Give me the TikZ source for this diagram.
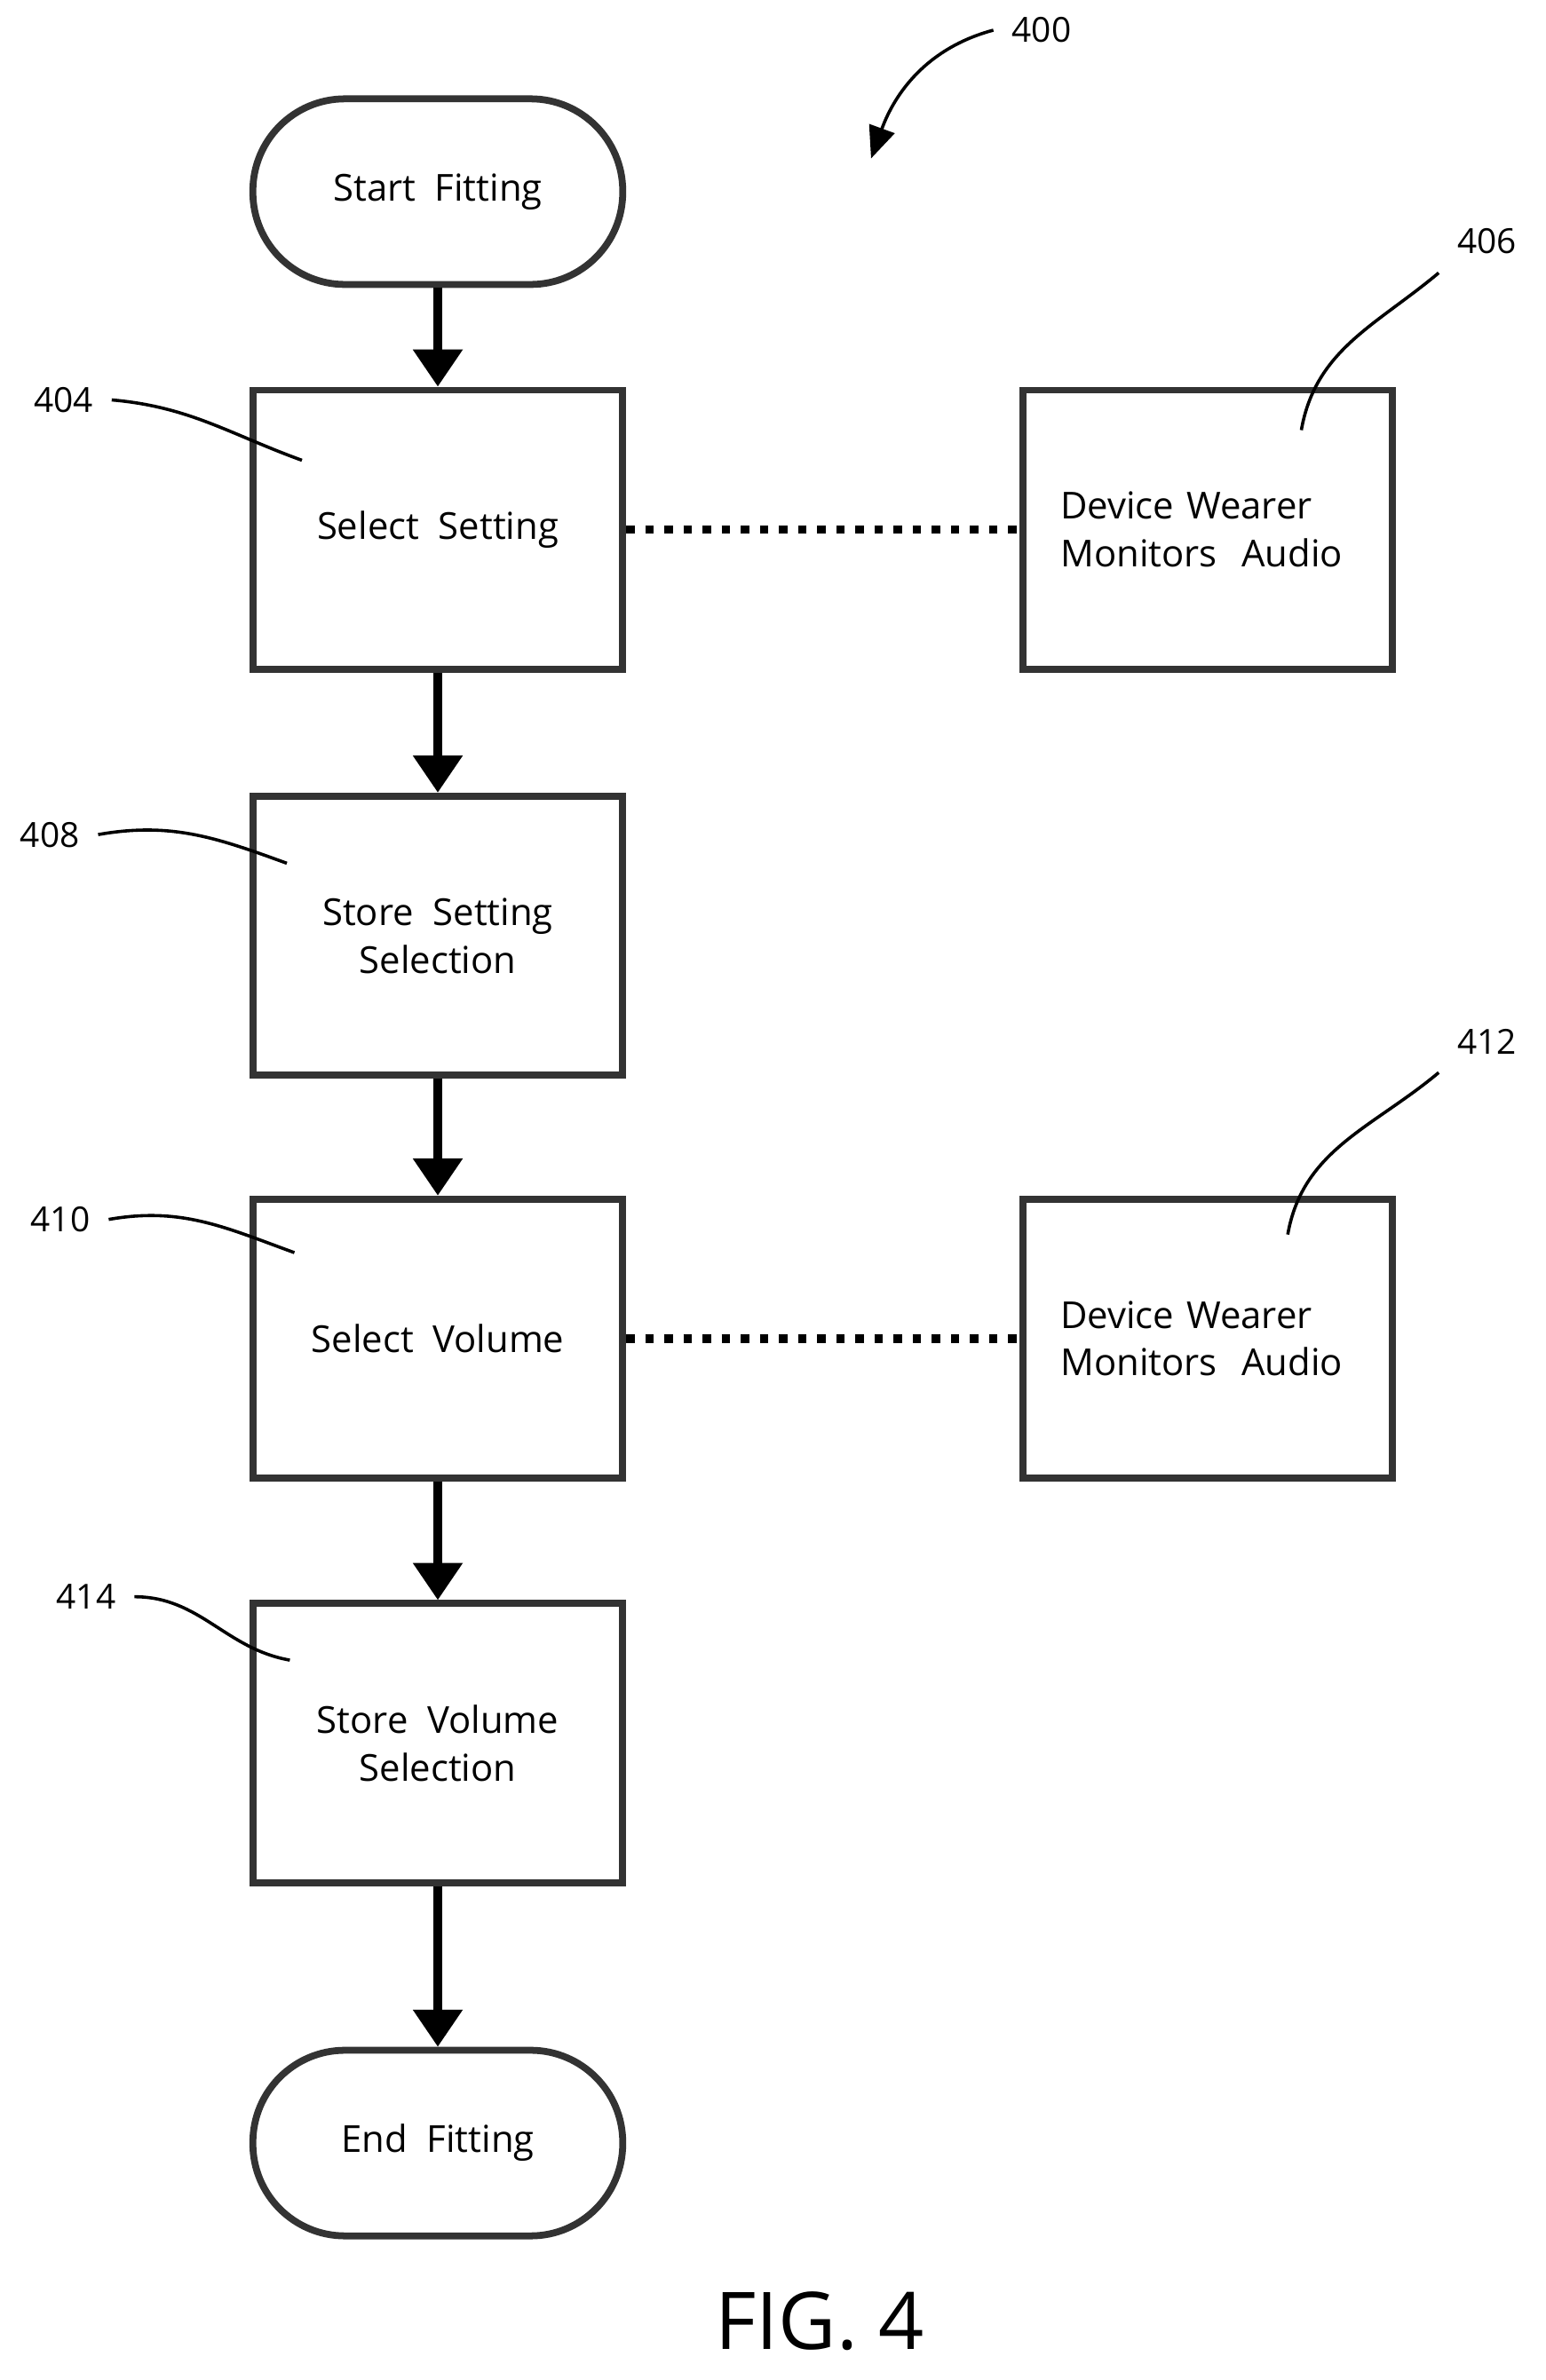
\documentclass[tikz,border=0pt]{standalone}
\usepackage{fontspec}
\setmainfont{Open Sans}
\usetikzlibrary{arrows.meta,positioning}
\tikzset{
  box/.style={draw=black!80,line width=1.3pt,minimum width=2.45cm,minimum height=1.85cm,align=center,font=\fontsize{7}{9}\selectfont},
  term/.style={box,rounded corners=0.61cm,minimum height=1.23cm},
  flow/.style={line width=1.6pt,-{Triangle[length=7pt,width=9pt]}},
  link/.style={line width=1.6pt,dotted},
  lead/.style={line width=0.6pt},
  ref/.style={font=\fontsize{6.5}{8}\selectfont}
}
\begin{document}
\begin{tikzpicture}
\useasboundingbox (0,0) rectangle (10.24,-15.77);
% main column
\node[term] (start) at (2.9,-1.27) {Start\ \ Fitting};
\node[box] (sel) at (2.9,-3.51) {Select\ \ Setting};
\node[box] (store) at (2.9,-6.2) {Store\ \ Setting\\Selection};
\node[box] (vol) at (2.9,-8.87) {Select\ \ Volume};
\node[box] (storev) at (2.9,-11.55) {Store\ \ Volume\\Selection};
\node[term] (end) at (2.9,-14.2) {End\ \ Fitting};
% side boxes
\node[box,text width=1.95cm,align=left] (mon1) at (8.0,-3.51) {Device Wearer\\Monitors\ \ Audio};
\node[box,text width=1.95cm,align=left] (mon2) at (8.0,-8.87) {Device Wearer\\Monitors\ \ Audio};
\draw[flow] (start) -- (sel);
\draw[flow] (sel) -- (store);
\draw[flow] (store) -- (vol);
\draw[flow] (vol) -- (storev);
\draw[flow] (storev) -- (end);
\draw[link] (sel) -- (mon1);
\draw[link] (vol) -- (mon2);
% reference numerals
\node[ref] (n400) at (6.9,-0.2) {400};
\node[ref] (n404) at (0.42,-2.65) {404};
\node[ref] (n406) at (9.85,-1.6) {406};
\node[ref] (n408) at (0.33,-5.53) {408};
\node[ref] (n410) at (0.4,-8.08) {410};
\node[ref] (n412) at (9.85,-6.9) {412};
\node[ref] (n414) at (0.57,-10.58) {414};
\coordinate (t400) at (5.77,-1.05);
\draw[lead,-{Triangle[length=6pt,width=5pt]}] (n400.west) to[out=195,in=70] (t400);
\draw[lead] (n404.east) to[out=-5,in=160] (2.0,-3.05);
\draw[lead] (n406.south west) to[out=220,in=80] (8.62,-2.85);
\draw[lead] (n408.east) to[out=10,in=160] (1.9,-5.72);
\draw[lead] (n410.east) to[out=10,in=160] (1.95,-8.3);
\draw[lead] (n412.south west) to[out=220,in=80] (8.53,-8.18);
\draw[lead] (n414.east) to[out=0,in=170] (1.92,-11.0);
\node[font=\fontsize{15}{18}\selectfont] (fig) at (5.43,-15.38) {FIG. 4};
\end{tikzpicture}
\end{document}
